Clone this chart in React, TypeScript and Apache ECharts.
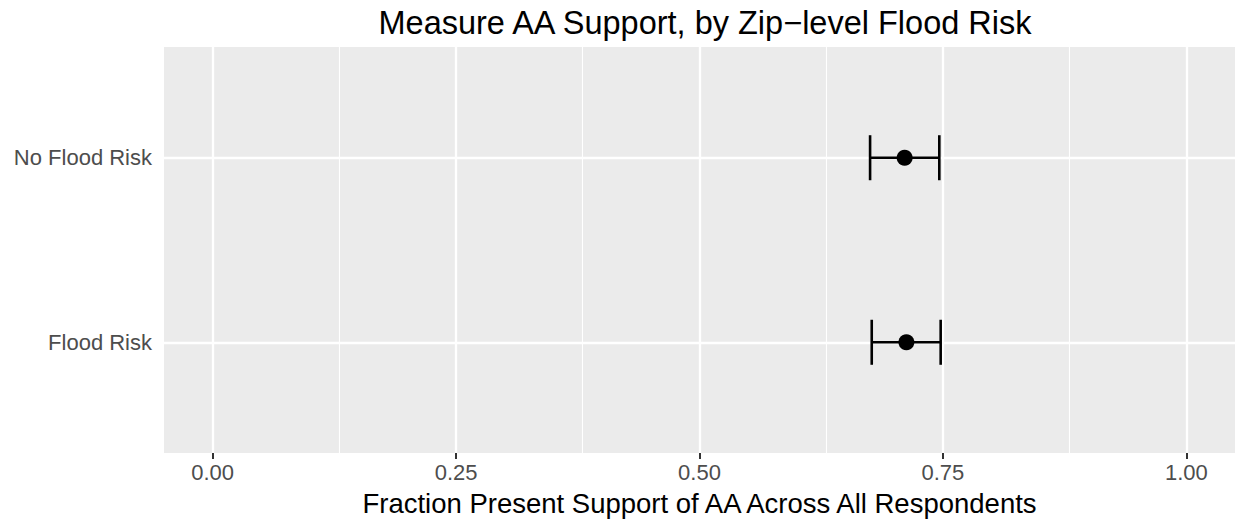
import React, { useEffect, useRef } from "react";
import * as echarts from "echarts";

const categories = ["Flood Risk", "No Flood Risk"];
const means = [0.7125, 0.7107];
const lower = [0.6769, 0.6752];
const upper = [0.7477, 0.7463];
const xTicks = [0, 0.25, 0.5, 0.75, 1];
const xMinor = [0.125, 0.375, 0.625, 0.875];
const yTicks = [1, 2];

const FONT = "'Liberation Sans', Arial, Helvetica, sans-serif";

export default function App() {
  const ref = useRef<HTMLDivElement>(null);
  useEffect(() => {
    if (!ref.current) return;
    const chart = echarts.init(ref.current, null, { renderer: "svg" });
    const errData = categories.map((_, i) => [lower[i], upper[i], yTicks[i]]);
    const ptData = categories.map((_, i) => [means[i], yTicks[i]]);
    chart.setOption({
      animation: false,
      backgroundColor: "#FFFFFF",
      title: {
        text: "Measure AA Support, by Zip\u2212level Flood Risk",
        left: 700,
        textAlign: "center",
        top: 1,
        textStyle: { fontFamily: FONT, fontSize: 32.5, fontWeight: "normal", color: "#000000" },
      },
      grid: {
        left: 164,
        right: 0,
        top: 47,
        bottom: 67,
        show: true,
        backgroundColor: "#EBEBEB",
        borderWidth: 0,
        containLabel: false,
        outerBoundsMode: "none",
      },
      xAxis: {
        type: "value",
        min: -0.05,
        max: 1.05,
        axisLine: { show: false },
        splitLine: { show: false },
        axisTick: { show: true, customValues: xTicks, length: 6, lineStyle: { color: "#333333", width: 2 } },
        axisLabel: {
          customValues: xTicks,
          formatter: (v: number) => v.toFixed(2),
          color: "#4D4D4D",
          fontFamily: FONT,
          fontSize: 22,
          margin: 8,
        },
        name: "Fraction Present Support of AA Across All Respondents",
        nameLocation: "middle",
        nameGap: 36,
        nameTextStyle: { fontFamily: FONT, fontSize: 27.5, color: "#000000" },
      },
      yAxis: {
        type: "value",
        min: 0.4,
        max: 2.6,
        axisLine: { show: false },
        splitLine: { show: false },
        axisTick: { show: true, customValues: yTicks, length: 6, lineStyle: { color: "#333333", width: 2 } },
        axisLabel: {
          customValues: yTicks,
          formatter: (v: number) => categories[Math.round(v) - 1] ?? "",
          color: "#4D4D4D",
          fontFamily: FONT,
          fontSize: 22,
          margin: 12,
        },
      },
      series: [
        {
          type: "line",
          data: [],
          silent: true,
          markLine: {
            silent: true,
            symbol: "none",
            label: { show: false },
            animation: false,
            data: [
              ...xMinor.map((v) => ({ xAxis: v, lineStyle: { color: "#FFFFFF", width: 1.1, type: "solid" } })),
              ...xTicks.map((v) => ({ xAxis: v, lineStyle: { color: "#FFFFFF", width: 2.3, type: "solid" } })),
              ...yTicks.map((v) => ({ yAxis: v, lineStyle: { color: "#FFFFFF", width: 2.3, type: "solid" } })),
            ],
          },
        },
        {
          type: "custom",
          z: 5,
          data: errData,
          renderItem: (params: any, api: any) => {
            const lo = api.value(0);
            const hi = api.value(1);
            const y = api.value(2);
            const pLo = api.coord([lo, y]);
            const pHi = api.coord([hi, y]);
            const top = api.coord([lo, y + 0.122])[1];
            const bot = api.coord([lo, y - 0.122])[1];
            const style = { stroke: "#000000", lineWidth: 2.6, fill: null };
            return {
              type: "group",
              children: [
                { type: "line", shape: { x1: pLo[0], y1: pLo[1], x2: pHi[0], y2: pHi[1] }, style },
                { type: "line", shape: { x1: pLo[0], y1: top, x2: pLo[0], y2: bot }, style },
                { type: "line", shape: { x1: pHi[0], y1: top, x2: pHi[0], y2: bot }, style },
              ],
            };
          },
        },
        {
          type: "scatter",
          z: 6,
          data: ptData,
          symbol: "circle",
          symbolSize: 16,
          itemStyle: { color: "#000000", opacity: 1 },
        },
      ],
    });
    return () => chart.dispose();
  }, []);
  return (
    <div
      ref={ref}
      style={{ position: "fixed", left: 0, top: 0, width: 1235, height: 520 }}
    />
  );
}
